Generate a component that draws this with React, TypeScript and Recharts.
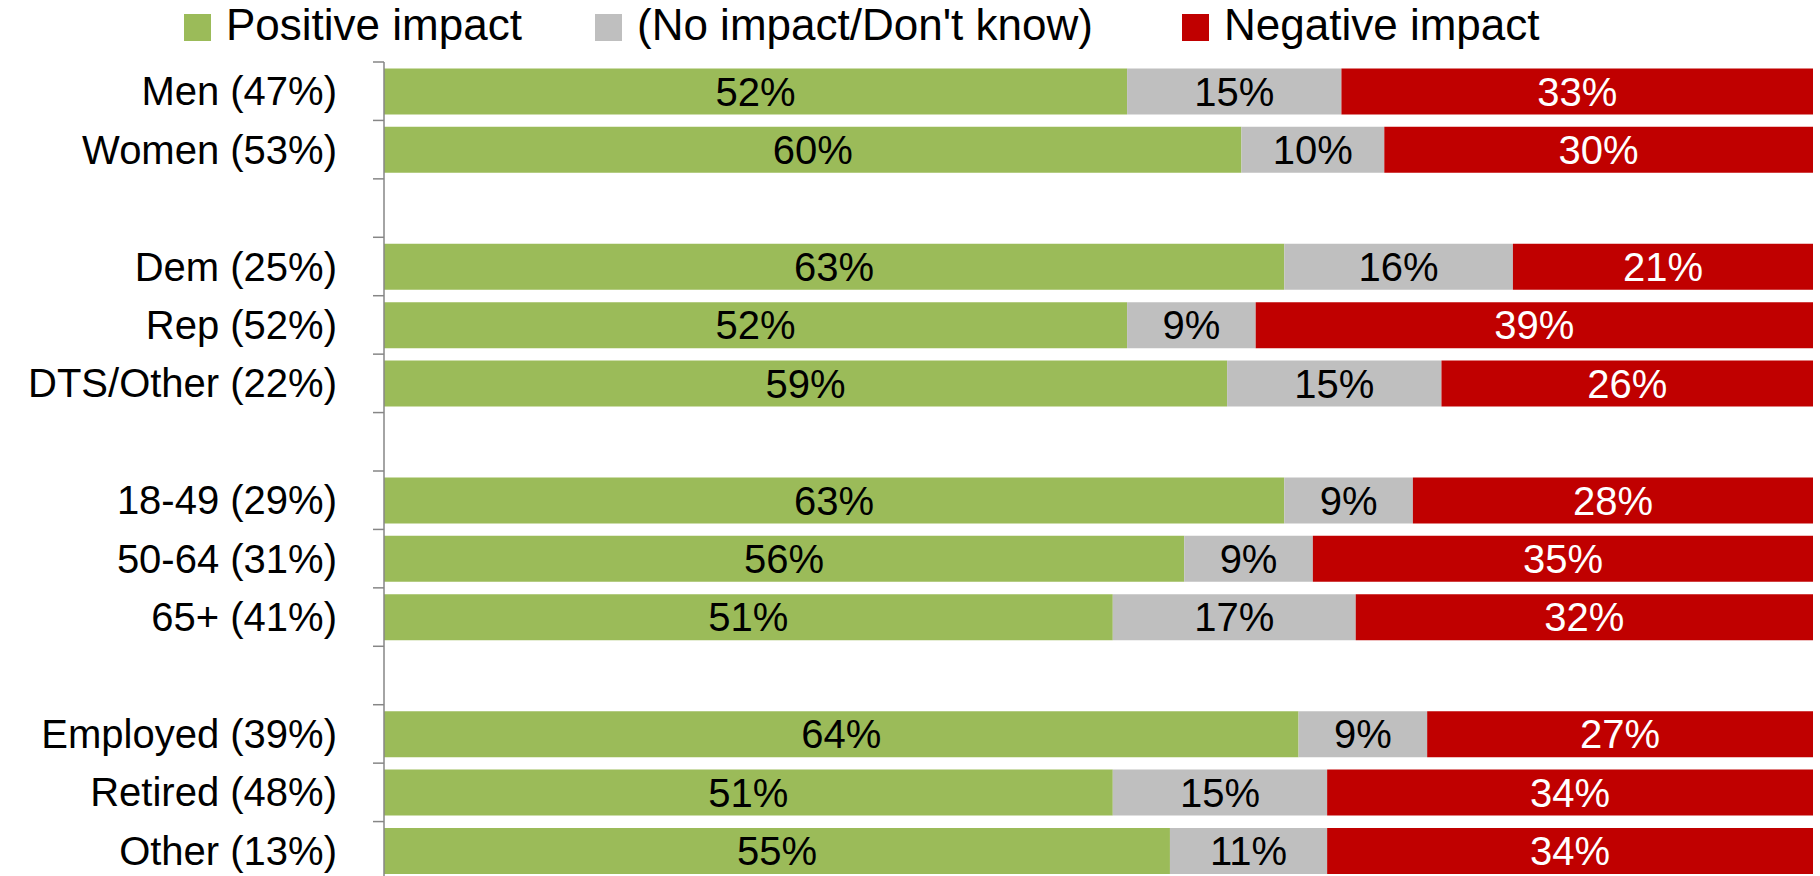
import React from 'react';
import { BarChart, Bar, XAxis, YAxis, Legend, LabelList } from 'recharts';

const categories = [
  'Men (47%)', 'Women (53%)', '',
  'Dem (25%)', 'Rep (52%)', 'DTS/Other (22%)', '',
  '18-49 (29%)', '50-64 (31%)', '65+ (41%)', '',
  'Employed (39%)', 'Retired (48%)', 'Other (13%)',
];
const positive = [52, 60, null, 63, 52, 59, null, 63, 56, 51, null, 64, 51, 55];
const noImpact = [15, 10, null, 16, 9, 15, null, 9, 9, 17, null, 9, 15, 11];
const negative = [33, 30, null, 21, 39, 26, null, 28, 35, 32, null, 27, 34, 34];

const series = [
  { key: 'positive', name: 'Positive impact', color: '#9BBB59', text: '#000000' },
  { key: 'none', name: "(No impact/Don't know)", color: '#BFBFBF', text: '#000000' },
  { key: 'negative', name: 'Negative impact', color: '#C00000', text: '#ffffff' },
];

const data = categories.map((name, i) => ({
  id: `c${i}`,
  name,
  positive: positive[i],
  none: noImpact[i],
  negative: negative[i],
}));

const W = 1820;
const H = 876;
// the plot runs a little past the bottom edge of the picture
const CHART_H = 880;
const LEGEND_H = 50;
const PLOT_TOP = 62;
const MARGIN = { top: PLOT_TOP - LEGEND_H, right: 7, bottom: 0, left: 14 };
const Y_W = 370;
const AXIS_X = MARGIN.left + Y_W;
const BAND = (CHART_H - PLOT_TOP - MARGIN.bottom) / categories.length;
const FONT = '"Liberation Sans", Arial, sans-serif';
// left edge of each legend swatch
const LEGEND_X = [184, 595, 1182];

const CategoryTick = (props: any) => {
  const { y, index } = props;
  const label = categories[index] ?? '';
  return (
    <g>
      <line x1={AXIS_X - 11} x2={AXIS_X} y1={y - BAND / 2} y2={y - BAND / 2} stroke="#868686" strokeWidth={1.5} />
      {index === categories.length - 1 && (
        <line x1={AXIS_X - 11} x2={AXIS_X} y1={y + BAND / 2} y2={y + BAND / 2} stroke="#868686" strokeWidth={1.5} />
      )}
      <text x={AXIS_X - 47} y={y} textAnchor="end" dominantBaseline="central" fontSize={40} fontFamily={FONT} fill="#000">
        {label}
      </text>
    </g>
  );
};

const LegendContent = () => (
  <div style={{ position: 'relative', height: LEGEND_H, width: W, fontFamily: FONT, fontSize: 44 }}>
    {series.map((s, i) => (
      <div
        key={s.key}
        style={{ position: 'absolute', left: LEGEND_X[i], top: 0, height: LEGEND_H, display: 'flex', alignItems: 'center' }}
      >
        <span style={{ width: 27, height: 27, background: s.color, marginRight: 15, display: 'inline-block', marginTop: 4 }} />
        <span style={{ color: '#000', whiteSpace: 'nowrap', lineHeight: '50px' }}>{s.name}</span>
      </div>
    ))}
  </div>
);

export default function App() {
  return (
    <div style={{ position: 'absolute', left: 0, top: 0, width: W, height: H, background: '#fff', overflow: 'hidden' }}>
      <BarChart width={W} height={CHART_H} data={data} layout="vertical" margin={MARGIN} barCategoryGap="11%">
        <XAxis type="number" domain={[0, 100]} hide />
        <YAxis
          type="category"
          dataKey="id"
          width={Y_W}
          axisLine={{ stroke: '#868686', strokeWidth: 1.5 }}
          tickLine={false}
          tick={<CategoryTick />}
          interval={0}
        />
        <Legend verticalAlign="top" content={<LegendContent />} wrapperStyle={{ top: 0, left: 0, width: W, height: LEGEND_H }} />
        {series.map((s) => (
          <Bar key={s.key} dataKey={s.key} name={s.name} stackId="a" fill={s.color} isAnimationActive={false}>
            <LabelList
              dataKey={s.key}
              position="center"
              formatter={(v: any) => (v == null ? '' : `${v}%`)}
              fill={s.text}
              fontSize={40}
              fontFamily={FONT}
            />
          </Bar>
        ))}
      </BarChart>
    </div>
  );
}
